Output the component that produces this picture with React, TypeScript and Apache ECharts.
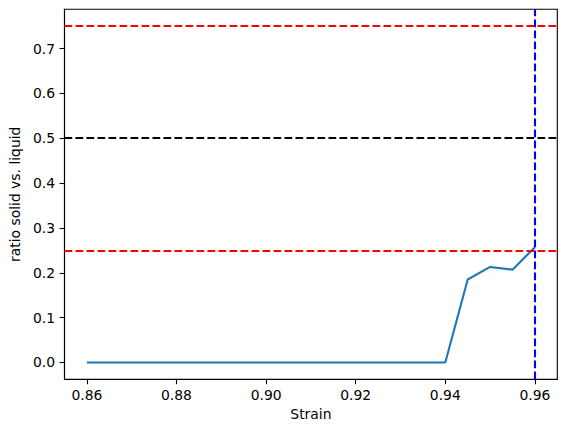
import React, { useEffect, useRef } from "react";
import * as echarts from "echarts";

const strain = [
  0.86, 0.865, 0.87, 0.875, 0.88, 0.885, 0.89, 0.895, 0.9, 0.905, 0.91,
  0.915, 0.92, 0.925, 0.93, 0.935, 0.94, 0.945, 0.95, 0.955, 0.96,
];
const ratio = [
  0, 0, 0, 0, 0, 0, 0, 0, 0, 0, 0, 0, 0, 0, 0, 0, 0, 0.185, 0.213, 0.207,
  0.257,
];
const xTicks = [0.86, 0.88, 0.9, 0.92, 0.94, 0.96];
const yTicks = [0, 0.1, 0.2, 0.3, 0.4, 0.5, 0.6, 0.7];
const hLines = [
  { y: 0.75, color: "#ff0000" },
  { y: 0.5, color: "#000000" },
  { y: 0.25, color: "#ff0000" },
];
const vLineX = 0.96;

const FONT = "DejaVu Sans";
const DASH = [7.7, 3.3];

function App() {
  const chartRef = useRef<HTMLDivElement>(null);

  useEffect(() => {
    if (!chartRef.current) return;
    const chart = echarts.init(chartRef.current, undefined, { renderer: "svg" });
    const options: echarts.EChartsOption = {
      animation: false,
      backgroundColor: "#ffffff",
      textStyle: { fontFamily: FONT },
      grid: {
        left: 61.3,
        right: 9.7,
        top: 9.3,
        bottom: 52.7,
        show: true,
        borderColor: "#000000",
        borderWidth: 1.1,
        backgroundColor: "transparent",
      },
      xAxis: {
        type: "value",
        min: 0.855,
        max: 0.965,
        name: "Strain",
        nameLocation: "middle",
        nameGap: 28,
        nameTextStyle: { fontSize: 13.9, color: "#000", fontFamily: FONT },
        axisLine: { show: true, onZero: false, lineStyle: { color: "#000", width: 1.1 } },
        axisTick: {
          show: true,
          inside: false,
          length: 4.9,
          customValues: xTicks,
          lineStyle: { color: "#000", width: 1.1 },
        },
        axisLabel: {
          customValues: xTicks,
          margin: 8.5,
          fontSize: 13.9,
          color: "#000",
          fontFamily: FONT,
          formatter: (v: number) => v.toFixed(2),
        },
        splitLine: { show: false },
      },
      yAxis: {
        type: "value",
        min: -0.0375,
        max: 0.7875,
        name: "ratio solid vs. liquid",
        nameLocation: "middle",
        nameRotate: 90,
        nameGap: 38,
        nameTextStyle: { fontSize: 13.9, color: "#000", fontFamily: FONT },
        axisLine: { show: true, onZero: false, lineStyle: { color: "#000", width: 1.1 } },
        axisTick: {
          show: true,
          inside: false,
          length: 4.9,
          customValues: yTicks,
          lineStyle: { color: "#000", width: 1.1 },
        },
        axisLabel: {
          customValues: yTicks,
          margin: 9.5,
          fontSize: 13.9,
          color: "#000",
          fontFamily: FONT,
          formatter: (v: number) => v.toFixed(1),
        },
        splitLine: { show: false },
      },
      series: [
        {
          type: "line",
          data: strain.map((x, i) => [x, ratio[i]]),
          showSymbol: false,
          symbol: "none",
          lineStyle: { color: "#1f77b4", width: 2.1 },
          markLine: {
            silent: true,
            symbol: "none",
            label: { show: false },
            data: [
              ...hLines.map((h) => ({
                yAxis: h.y,
                lineStyle: { color: h.color, type: DASH, width: 2.1 },
              })),
              {
                xAxis: vLineX,
                lineStyle: { color: "#0000ff", type: DASH, width: 2.1 },
              },
            ],
          },
        },
      ],
    };
    chart.setOption(options);
    return () => {
      chart.dispose();
    };
  }, []);

  return (
    <div
      ref={chartRef}
      style={{ position: "fixed", left: 0, top: 0, width: "567px", height: "432px" }}
    />
  );
}

export default App;
